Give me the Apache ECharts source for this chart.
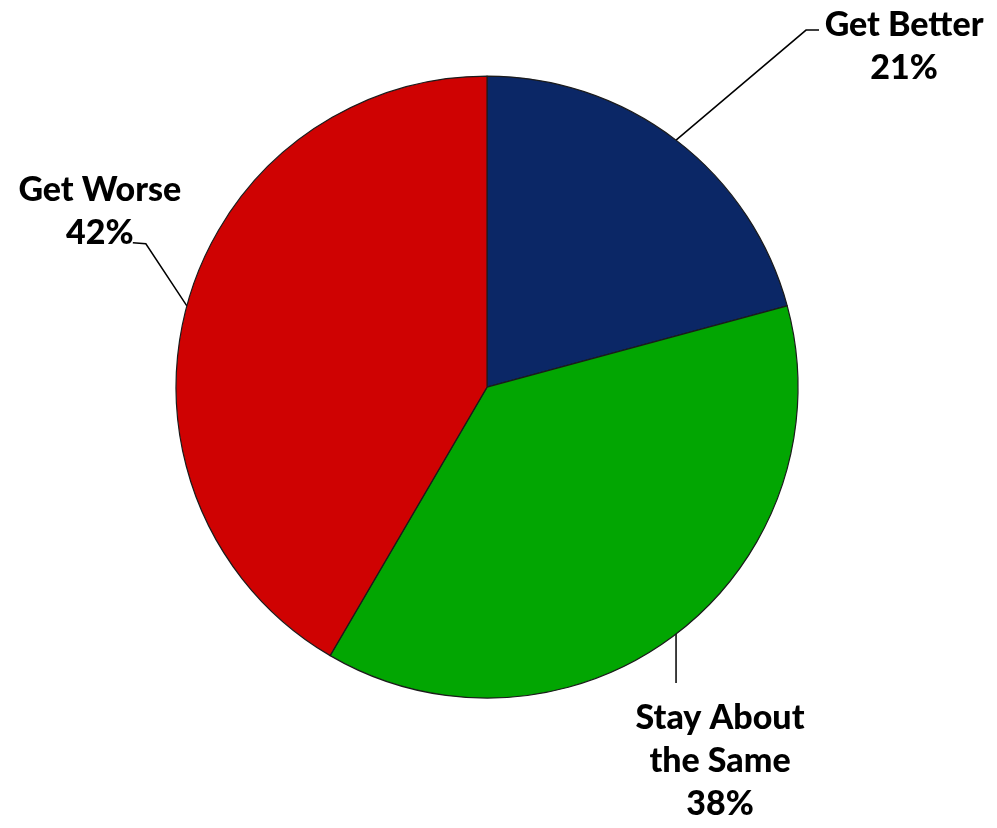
<!DOCTYPE html>
<html>
<head>
<meta charset="utf-8">
<script src="https://cdn.jsdelivr.net/npm/echarts@6/dist/echarts.min.js"></script>
<style>html,body{margin:0;padding:0;background:#fff;}#c{width:997px;height:828px;}</style>
</head>
<body>
<div id="c"></div>
<script>
const categories = ['Get Better', 'Stay About\nthe Same', 'Get Worse'];
const values = [21, 38, 42];
const colors = ['#0B2766', '#02A602', '#CF0202'];

// label placement relative to each slice's label anchor: [bendDx, bendDy, endDx, endDy, labelDx, labelDy]
const labelOffsets = [
  [130, -110, 143, -110, 228, -94],
  [0, 49, 0, 49, 44, 127],
  [-41, -62, -54, -63, -87, -94]
];

const chart = echarts.init(document.getElementById('c'), null, {renderer: 'canvas'});
chart.setOption({
  backgroundColor: '#ffffff',
  animation: false,
  series: [{
    type: 'pie',
    center: ['48.85%', '46.75%'],
    radius: 311,
    startAngle: 90,
    clockwise: true,
    data: categories.map((c, i) => ({name: c, value: values[i], itemStyle: {color: colors[i]}})),
    itemStyle: {borderColor: '#1b1b1b', borderWidth: 1.2},
    label: {
      show: true,
      position: 'outside',
      formatter: '{b}\n{c}%',
      fontFamily: 'Lato',
      fontWeight: 900,
      fontSize: 34,
      lineHeight: 43,
      color: '#000',
      align: 'center',
      overflow: 'none',
      width: 240
    },
    labelLine: {show: true, length: 20, length2: 10, lineStyle: {color: '#000', width: 1.5}},
    labelLayout: function (p) {
      const o = labelOffsets[p.dataIndex];
      const a = p.labelLinePoints ? p.labelLinePoints[0] : [0, 0];
      return {
        x: a[0] + o[4],
        y: a[1] + o[5],
        align: 'center',
        verticalAlign: 'middle',
        labelLinePoints: [[a[0], a[1]], [a[0] + o[0], a[1] + o[1]], [a[0] + o[2], a[1] + o[3]]]
      };
    }
  }]
});
</script>
</body>
</html>
